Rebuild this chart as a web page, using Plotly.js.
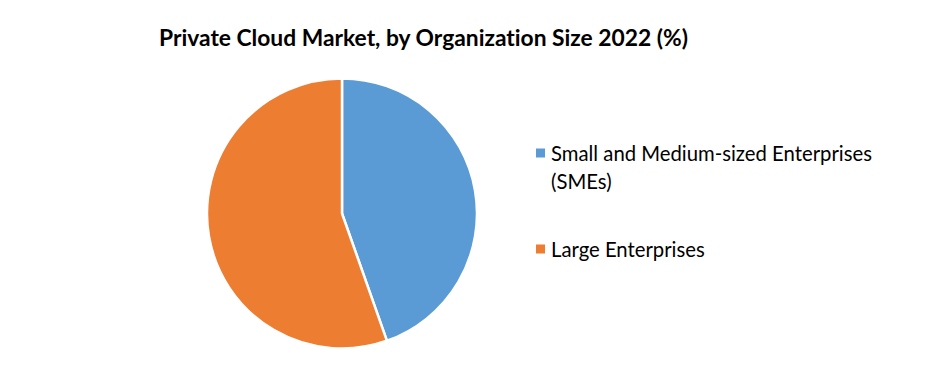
<!DOCTYPE html>
<html>
<head>
<meta charset="utf-8">
<script src="https://cdn.plot.ly/plotly-3.0.1.min.js"></script>
<style>html,body{margin:0;padding:0;background:#fff;}#chart{width:940px;height:370px;}
svg text{font-variant-ligatures:none;font-feature-settings:"liga" 0;}</style>
</head>
<body>
<div id="chart"></div>
<script>
var chartTitle = "Private Cloud Market, by Organization Size 2022 (%)";
var categories = ["Small and Medium-sized Enterprises|(SMEs)", "Large Enterprises"];
var shares = [44.6, 55.4];
var colors = ["#5B9BD5", "#ED7D31"];

var W = 940, H = 370;
function px(x) { return x / W; }
function py(y) { return 1 - y / H; }

var FONT = "Lato, 'Open Sans', sans-serif";

var annotations = [{
  text: "<b>" + chartTitle + "</b>",
  xref: "paper", yref: "paper", x: px(423), y: py(37),
  xanchor: "center", yanchor: "middle", showarrow: false,
  font: { family: FONT, size: 22.8, color: "#000" }
}];
var shapes = [];
var legendTop = [153, 249];
categories.forEach(function (c, i) {
  var lines = c.split("|");
  var y0 = legendTop[i];
  shapes.push({
    type: "rect", xref: "paper", yref: "paper",
    x0: px(536), x1: px(545), y0: py(y0 - 4.5), y1: py(y0 + 4.5),
    fillcolor: colors[i], line: { width: 0 }
  });
  lines.forEach(function (ln, j) {
    annotations.push({
      text: ln, xref: "paper", yref: "paper",
      x: px(549), y: py(y0 + j * 28), xanchor: "left", yanchor: "middle",
      showarrow: false, font: { family: FONT, size: 20.3, color: "#000" }
    });
  });
});

var data = [{
  type: "pie",
  labels: categories.map(function (c) { return c.replace("|", " "); }),
  values: shares,
  marker: { colors: colors, line: { color: "#fff", width: 2.5 } },
  sort: false, direction: "clockwise", rotation: 0,
  textinfo: "none", hoverinfo: "label+percent",
  domain: { x: [px(207), px(477)], y: [py(349), py(78)] }
}];

var layout = {
  width: W, height: H,
  margin: { l: 0, r: 0, t: 0, b: 0 },
  showlegend: false,
  paper_bgcolor: "#fff",
  annotations: annotations,
  shapes: shapes
};

Plotly.newPlot("chart", data, layout, { staticPlot: true, displayModeBar: false });
</script>
</body>
</html>
